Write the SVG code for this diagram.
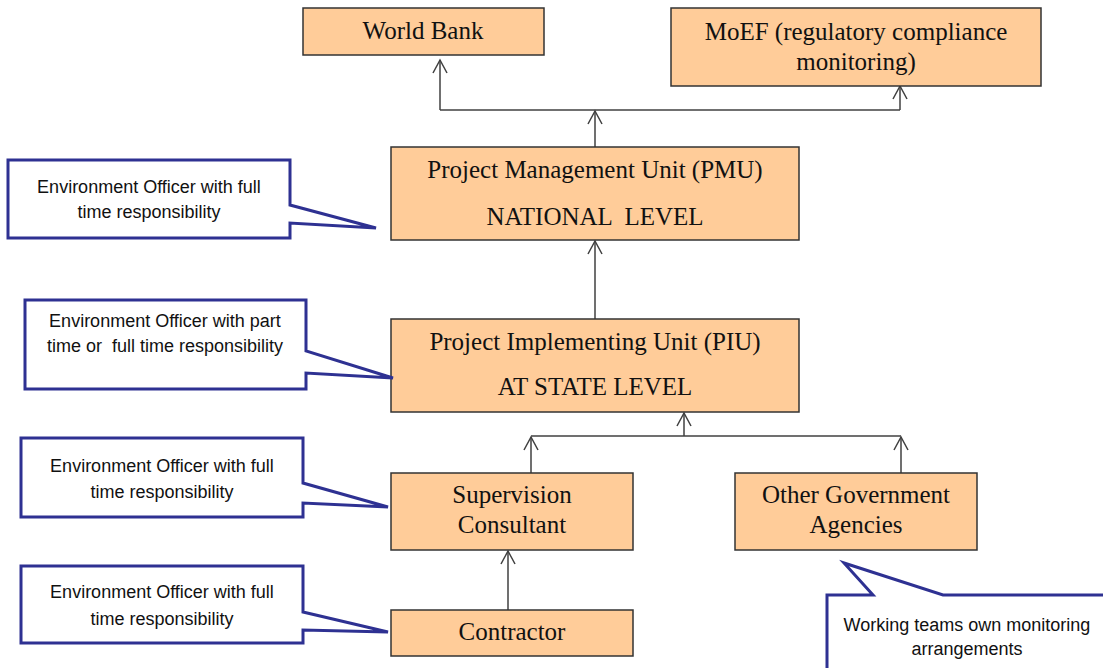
<svg xmlns="http://www.w3.org/2000/svg" width="1103" height="668" viewBox="0 0 1103 668">
<style>
.box{fill:#FFCC99;stroke:#333333;stroke-width:1.5}
.bt{font-family:"Liberation Serif","Times New Roman",serif;font-size:25px;fill:#111111;text-anchor:middle}
.co{fill:#FFFFFF;stroke:#2E3192;stroke-width:3;stroke-linejoin:miter}
.ct{font-family:"Liberation Sans",Arial,sans-serif;font-size:18px;fill:#111111;text-anchor:middle;white-space:pre}
.ln{fill:none;stroke:#404040;stroke-width:1.5}
.ar{marker-end:url(#arr)}
</style>
<defs>
<marker id="arr" markerUnits="userSpaceOnUse" markerWidth="20" markerHeight="20" refX="0" refY="0" viewBox="-15 -10 17 20" orient="auto" overflow="visible">
<path d="M-13,-7 L0,0 L-13,7" fill="none" stroke="#404040" stroke-width="1.5"/>
</marker>
</defs>
<rect width="1103" height="668" fill="#FFFFFF"/>
<g id="connectors">
<path class="ln" d="M440,110 H900"/>
<path class="ln ar" d="M595,147 V111"/>
<path class="ln ar" d="M440,110 V60"/>
<path class="ln ar" d="M900,110 V86"/>
<path class="ln ar" d="M595,319 V241"/>
<path class="ln" d="M531,436 H901"/>
<path class="ln ar" d="M684,436 V413"/>
<path class="ln ar" d="M531,473 V437"/>
<path class="ln ar" d="M901,473 V437"/>
<path class="ln ar" d="M508,610 V551"/>
</g>
<g id="worldbank">
<rect class="box" x="303" y="8" width="241" height="47"/>
<text class="bt" x="423" y="39">World Bank</text>
</g>
<g id="moef">
<rect class="box" x="671" y="8" width="370" height="78"/>
<text class="bt" x="856" y="40">MoEF (regulatory compliance</text>
<text class="bt" x="856" y="70">monitoring)</text>
</g>
<g id="pmu">
<rect class="box" x="391" y="147" width="408" height="93"/>
<text class="bt" x="595" y="178">Project Management Unit (PMU)</text>
<text class="bt" x="595" y="225" xml:space="preserve">NATIONAL  LEVEL</text>
</g>
<g id="piu">
<rect class="box" x="391" y="319" width="408" height="93"/>
<text class="bt" x="595" y="350">Project Implementing Unit (PIU)</text>
<text class="bt" x="595" y="395">AT STATE LEVEL</text>
</g>
<g id="supervision">
<rect class="box" x="391" y="473" width="242" height="77"/>
<text class="bt" x="512" y="503">Supervision</text>
<text class="bt" x="512" y="533">Consultant</text>
</g>
<g id="othergov">
<rect class="box" x="735" y="473" width="242" height="77"/>
<text class="bt" x="856" y="503">Other Government</text>
<text class="bt" x="856" y="533">Agencies</text>
</g>
<g id="contractor">
<rect class="box" x="391" y="610" width="242" height="46"/>
<text class="bt" x="512" y="640">Contractor</text>
</g>
<g id="callout-pmu">
<path class="co" d="M8,160 H290 V205 L376,228 L290,223 V238 H8 Z"/>
<text class="ct" x="149" y="193">Environment Officer with full</text>
<text class="ct" x="149" y="218">time responsibility</text>
</g>
<g id="callout-piu">
<path class="co" d="M25,300 H306 V351 L393,378 L306,373 V389 H25 Z"/>
<text class="ct" x="165" y="327">Environment Officer with part</text>
<text class="ct" x="165" y="352" xml:space="preserve">time or  full time responsibility</text>
</g>
<g id="callout-supervision">
<path class="co" d="M21,438 H303 V483 L388,507 L303,503 V517 H21 Z"/>
<text class="ct" x="162" y="472">Environment Officer with full</text>
<text class="ct" x="162" y="498">time responsibility</text>
</g>
<g id="callout-contractor">
<path class="co" d="M21,566 H303 V612 L388,632 L303,630 V643 H21 Z"/>
<text class="ct" x="162" y="598">Environment Officer with full</text>
<text class="ct" x="162" y="625">time responsibility</text>
</g>
<g id="callout-othergov">
<path class="co" d="M827,680 V595 H873 L844,563 L943,595 H1115 V680 Z"/>
<text class="ct" x="967" y="631">Working teams own monitoring</text>
<text class="ct" x="967" y="655">arrangements</text>
</g>
</svg>
